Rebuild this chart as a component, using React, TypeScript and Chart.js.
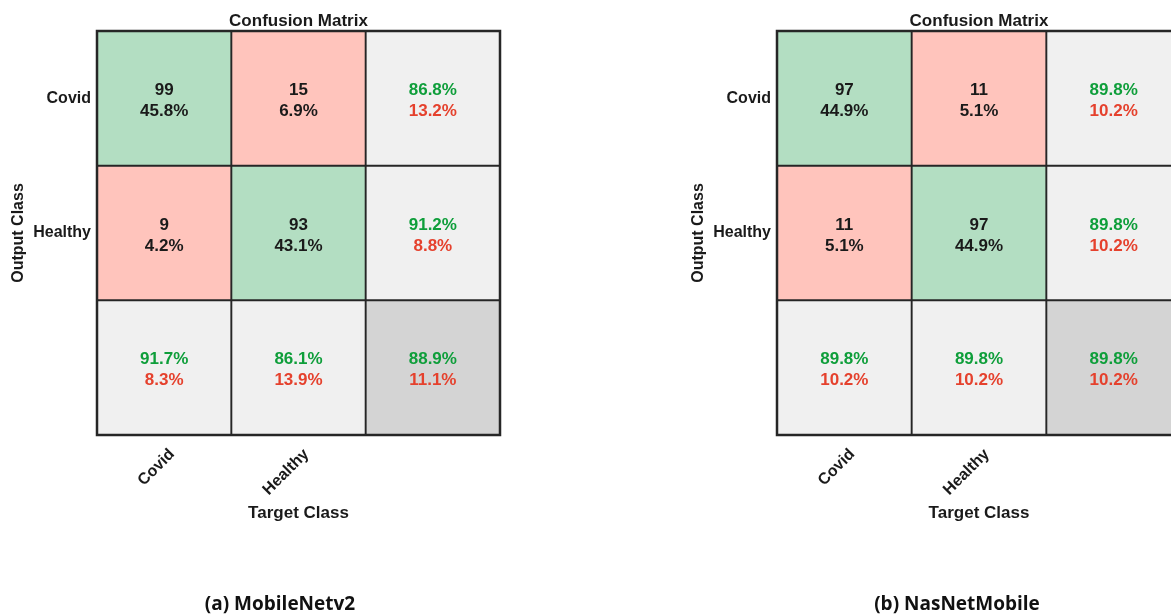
import React, { useEffect, useRef } from 'react';
import { Chart, registerables } from 'chart.js';

Chart.register(...registerables);

// ---- data ----
const outputClasses = ['Covid', 'Healthy'];
const targetTicks = ['Covid', 'Healthy', ''];

// (a) MobileNetv2
const countsA = [[99, 15], [9, 93]];
const cellPctA = [[45.8, 6.9], [4.2, 43.1]];
const rowGoodA = [86.8, 91.2];
const rowBadA = [13.2, 8.8];
const colGoodA = [91.7, 86.1];
const colBadA = [8.3, 13.9];
const totalGoodA = 88.9;
const totalBadA = 11.1;

// (b) NasNetMobile
const countsB = [[97, 11], [11, 97]];
const cellPctB = [[44.9, 5.1], [5.1, 44.9]];
const rowGoodB = [89.8, 89.8];
const rowBadB = [10.2, 10.2];
const colGoodB = [89.8, 89.8];
const colBadB = [10.2, 10.2];
const totalGoodB = 89.8;
const totalBadB = 10.2;

const FONT = '"Liberation Sans", Arial, sans-serif';
const GREEN_CELL = '#B3DEC2';
const RED_CELL = '#FFC4BC';
const GRAY_CELL = '#F0F0F0';
const DARK_CELL = '#D4D4D4';
const GREEN_TXT = '#0E9E3A';
const RED_TXT = '#E5412D';
const DARK_TXT = '#1a1a1a';

type M = {
  counts: number[][];
  pct: number[][];
  rowGood: number[];
  rowBad: number[];
  colGood: number[];
  colBad: number[];
  totalGood: number;
  totalBad: number;
};

function cellColor(r: number, c: number) {
  if (r === 2 && c === 2) return DARK_CELL;
  if (r === 2 || c === 2) return GRAY_CELL;
  return r === c ? GREEN_CELL : RED_CELL;
}

function makeConfig(m: M, padRight: number): any {
  const n = targetTicks.length;
  const datasets = [0, 1, 2].map((r) => ({
    label: 'row' + r,
    data: targetTicks.map(() => [r, r + 1]),
    backgroundColor: targetTicks.map((_, c) => cellColor(r, c)),
    borderColor: '#262626',
    borderWidth: 1.3,
    borderSkipped: false,
    barPercentage: 1,
    categoryPercentage: 1,
    grouped: false,
  }));

  const textPlugin = {
    id: 'cellText',
    afterDatasetsDraw(chart: any) {
      const { ctx, scales, chartArea } = chart;
      const x = scales.x;
      const y = scales.y;
      ctx.save();
      ctx.strokeStyle = '#262626';
      ctx.lineWidth = 2.5;
      ctx.strokeRect(chartArea.left, chartArea.top, chartArea.right - chartArea.left, chartArea.bottom - chartArea.top);
      ctx.textAlign = 'center';
      ctx.textBaseline = 'middle';
      ctx.font = 'bold 17px ' + FONT;
      for (let r = 0; r < 3; r++) {
        for (let c = 0; c < n; c++) {
          const cx = x.getPixelForValue(c);
          const cy = y.getPixelForValue(r + 0.5);
          let l1: string, l2: string, c1: string, c2: string;
          if (r < 2 && c < 2) {
            l1 = String(m.counts[r][c]);
            l2 = m.pct[r][c].toFixed(1) + '%';
            c1 = DARK_TXT;
            c2 = DARK_TXT;
          } else if (r < 2) {
            l1 = m.rowGood[r].toFixed(1) + '%';
            l2 = m.rowBad[r].toFixed(1) + '%';
            c1 = GREEN_TXT;
            c2 = RED_TXT;
          } else if (c < 2) {
            l1 = m.colGood[c].toFixed(1) + '%';
            l2 = m.colBad[c].toFixed(1) + '%';
            c1 = GREEN_TXT;
            c2 = RED_TXT;
          } else {
            l1 = m.totalGood.toFixed(1) + '%';
            l2 = m.totalBad.toFixed(1) + '%';
            c1 = GREEN_TXT;
            c2 = RED_TXT;
          }
          ctx.fillStyle = c1;
          ctx.fillText(l1, cx, cy - 8);
          ctx.fillStyle = c2;
          ctx.fillText(l2, cx, cy + 13);
        }
      }
      ctx.restore();
    },
  };

  return {
    type: 'bar',
    data: { labels: targetTicks, datasets },
    plugins: [textPlugin],
    options: {
      animation: false,
      responsive: false,
      devicePixelRatio: 1,
      layout: { padding: { left: 0, top: 0, right: padRight, bottom: 80 } },
      plugins: {
        legend: { display: false },
        tooltip: { enabled: false },
        title: {
          display: true,
          text: 'Confusion Matrix',
          position: 'top',
          fullSize: false,
          color: DARK_TXT,
          font: { family: FONT, size: 17, weight: 'bold', lineHeight: 1.1 },
          padding: { top: 12, bottom: 0.3 },
        },
      },
      scales: {
        x: {
          type: 'category',
          offset: true,
          grid: { display: false, drawTicks: false },
          border: { display: false },
          ticks: {
            minRotation: 45,
            maxRotation: 45,
            autoSkip: false,
            padding: 10,
            labelOffset: 8,
            color: DARK_TXT,
            font: { family: FONT, size: 16, weight: 'bold' },
          },
          title: {
            display: true,
            text: 'Target Class',
            color: DARK_TXT,
            font: { family: FONT, size: 17, weight: 'bold', lineHeight: 1.2 },
            padding: { top: 4, bottom: 11 },
          },
          afterFit: (s: any) => {
            s.height = 100;
          },
        },
        y: {
          type: 'linear',
          min: 0,
          max: 3,
          reverse: true,
          grid: { display: false, drawTicks: false },
          border: { display: false },
          afterBuildTicks: (s: any) => {
            s.ticks = outputClasses.map((_, i) => ({ value: i + 0.5 }));
          },
          ticks: {
            padding: 6,
            color: DARK_TXT,
            font: { family: FONT, size: 16, weight: 'bold' },
            callback: (_v: any, i: number) => outputClasses[i],
          },
          title: {
            display: true,
            text: 'Output Class',
            color: DARK_TXT,
            font: { family: FONT, size: 16, weight: 'bold', lineHeight: 1.2 },
            padding: { top: 8.5, bottom: 0 },
          },
          afterFit: (s: any) => {
            s.width = 97;
          },
        },
      },
    },
  };
}

function Matrix({ m, left, width, padRight }: { m: M; left: number; width: number; padRight: number }) {
  const ref = useRef<HTMLCanvasElement | null>(null);
  useEffect(() => {
    if (!ref.current) return;
    const chart = new Chart(ref.current, makeConfig(m, padRight));
    return () => chart.destroy();
  }, [m, padRight]);
  return (
    <canvas
      ref={ref}
      width={width}
      height={615}
      style={{ position: 'absolute', left, top: 0, width, height: 615, display: 'block' }}
    />
  );
}

const dataA: M = {
  counts: countsA,
  pct: cellPctA,
  rowGood: rowGoodA,
  rowBad: rowBadA,
  colGood: colGoodA,
  colBad: colBadA,
  totalGood: totalGoodA,
  totalBad: totalBadA,
};
const dataB: M = {
  counts: countsB,
  pct: cellPctB,
  rowGood: rowGoodB,
  rowBad: rowBadB,
  colGood: colGoodB,
  colBad: colBadB,
  totalGood: totalGoodB,
  totalBad: totalBadB,
};

const captionStyle: React.CSSProperties = {
  position: 'absolute',
  top: 591,
  width: 260,
  textAlign: 'center',
  fontFamily: '"Open Sans", Lato, sans-serif',
  fontWeight: 700,
  fontSize: 19,
  lineHeight: '24px',
  color: '#111',
  whiteSpace: 'nowrap',
};

export default function App() {
  return (
    <div
      style={{
        position: 'fixed',
        left: 0,
        top: 0,
        width: 1171,
        height: 615,
        overflow: 'hidden',
        background: '#ffffff',
      }}
    >
      <Matrix m={dataA} left={0} width={600} padRight={100} />
      <Matrix m={dataB} left={680} width={505} padRight={4} />
      <div style={{ ...captionStyle, left: 280 - 130 }}>(a) MobileNetv2</div>
      <div style={{ ...captionStyle, left: 957 - 130 }}>(b) NasNetMobile</div>
    </div>
  );
}
